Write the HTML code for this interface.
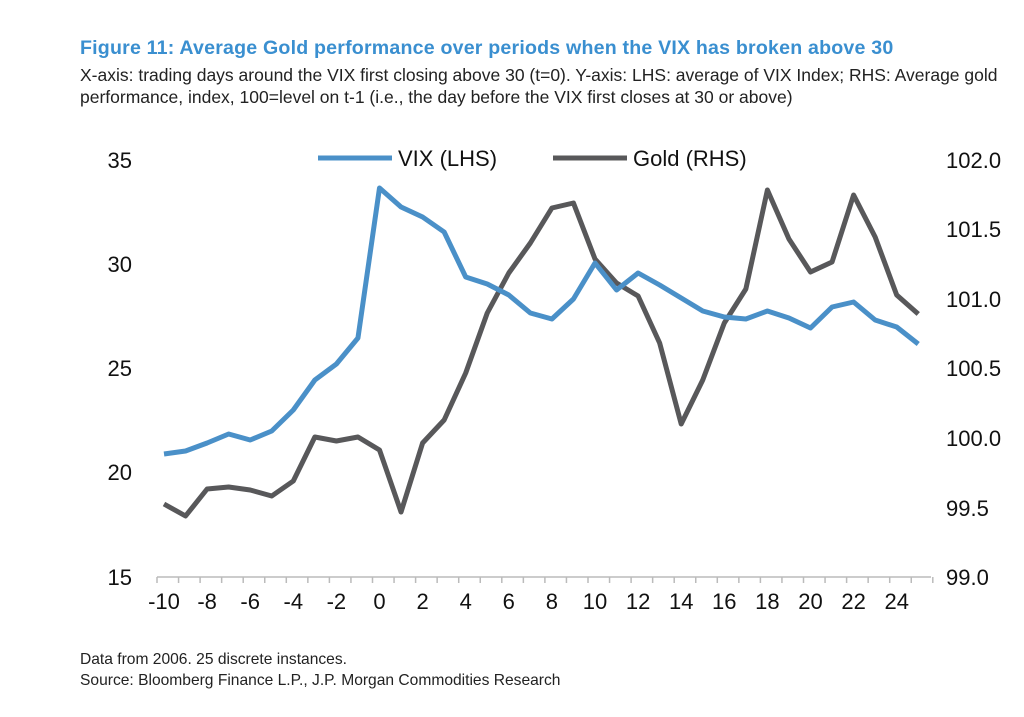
<!DOCTYPE html>
<html><head><meta charset="utf-8"><style>
body{margin:0;background:#fff;width:1024px;height:717px;overflow:hidden;font-family:"Liberation Sans",Arial,sans-serif;}
.t{position:absolute;left:80px;top:37px;font-size:19.8px;font-weight:bold;color:#3a8fd0;white-space:nowrap;transform:scaleX(0.99);transform-origin:left;letter-spacing:0.2px}
.s{position:absolute;left:80px;top:64px;font-size:17.5px;color:#222;line-height:22px;width:945px;transform:scaleX(1.0);transform-origin:left;}
.f{position:absolute;left:80px;top:649px;font-size:15.6px;color:#222;line-height:21px;white-space:nowrap}
</style></head><body>
<div class="t">Figure 11: Average Gold performance over periods when the VIX has broken above 30</div>
<div class="s">X-axis: trading days around the VIX first closing above 30 (t=0). Y-axis: LHS: average of VIX Index; RHS: Average gold performance, index, 100=level on t-1 (i.e., the day before the VIX first closes at 30 or above)</div>
<svg width="1024" height="717" style="position:absolute;left:0;top:0" font-family="Liberation Sans, Arial, sans-serif">
<g font-size="22" fill="#111" text-anchor="end">
<text x="132" y="168">35</text><text x="132" y="272">30</text><text x="132" y="376">25</text><text x="132" y="480">20</text><text x="132" y="585">15</text>
</g>
<g font-size="22" fill="#111" text-anchor="start">
<text x="946" y="168">102.0</text><text x="946" y="237">101.5</text><text x="946" y="307">101.0</text><text x="946" y="376">100.5</text><text x="946" y="446">100.0</text><text x="946" y="516">99.5</text><text x="946" y="585">99.0</text>
</g>
<line x1="157" y1="577" x2="931" y2="577" stroke="#bbb" stroke-width="1.5"/>
<g stroke="#bbb" stroke-width="1.5" id="ticks"></g>
<g font-size="22" fill="#111" text-anchor="middle" id="xl"></g>
<polyline id="gold" fill="none" stroke="#58585a" stroke-width="5" stroke-linejoin="round"/>
<polyline id="vix" fill="none" stroke="#4a90c8" stroke-width="5" stroke-linejoin="round"/>
<line x1="318" y1="158" x2="392" y2="158" stroke="#4a90c8" stroke-width="5"/>
<text x="398" y="166" font-size="22" fill="#111">VIX (LHS)</text>
<line x1="553" y1="158" x2="627" y2="158" stroke="#58585a" stroke-width="5"/>
<text x="633" y="166" font-size="22" fill="#111">Gold (RHS)</text>
</svg>
<div class="f">Data from 2006. 25 discrete instances.<br>Source: Bloomberg Finance L.P., J.P. Morgan Commodities Research</div>
<script>
var v=[454,451,443,434,440,431,410,380,364,338,188,207,217,232,277,284,295,313,319,299,263,290,273,285,298,311,317,319,311,318,328,307,302,320,327,344];
var g=[504,516,489,487,490,496,481,437,441,437,450,512,443,420,373,313,273,243,208,203,259,283,296,343,424,380,323,289,190,239,272,262,195,237,295,314];
function X(i){return 164+i*21.55;}
document.getElementById('vix').setAttribute('points',v.map((y,i)=>X(i)+','+y).join(' '));
document.getElementById('gold').setAttribute('points',g.map((y,i)=>X(i)+','+y).join(' '));
var t='',l='';
for(var i=0;i<=36;i++){var x=157+i*21.55;t+='<line x1="'+x+'" y1="577" x2="'+x+'" y2="583"/>';}
for(var i=0;i<36;i+=2){l+='<text x="'+X(i)+'" y="609">'+(i-10)+'</text>';}
document.getElementById('ticks').innerHTML=t;
document.getElementById('xl').innerHTML=l;
</script>
</body></html>
